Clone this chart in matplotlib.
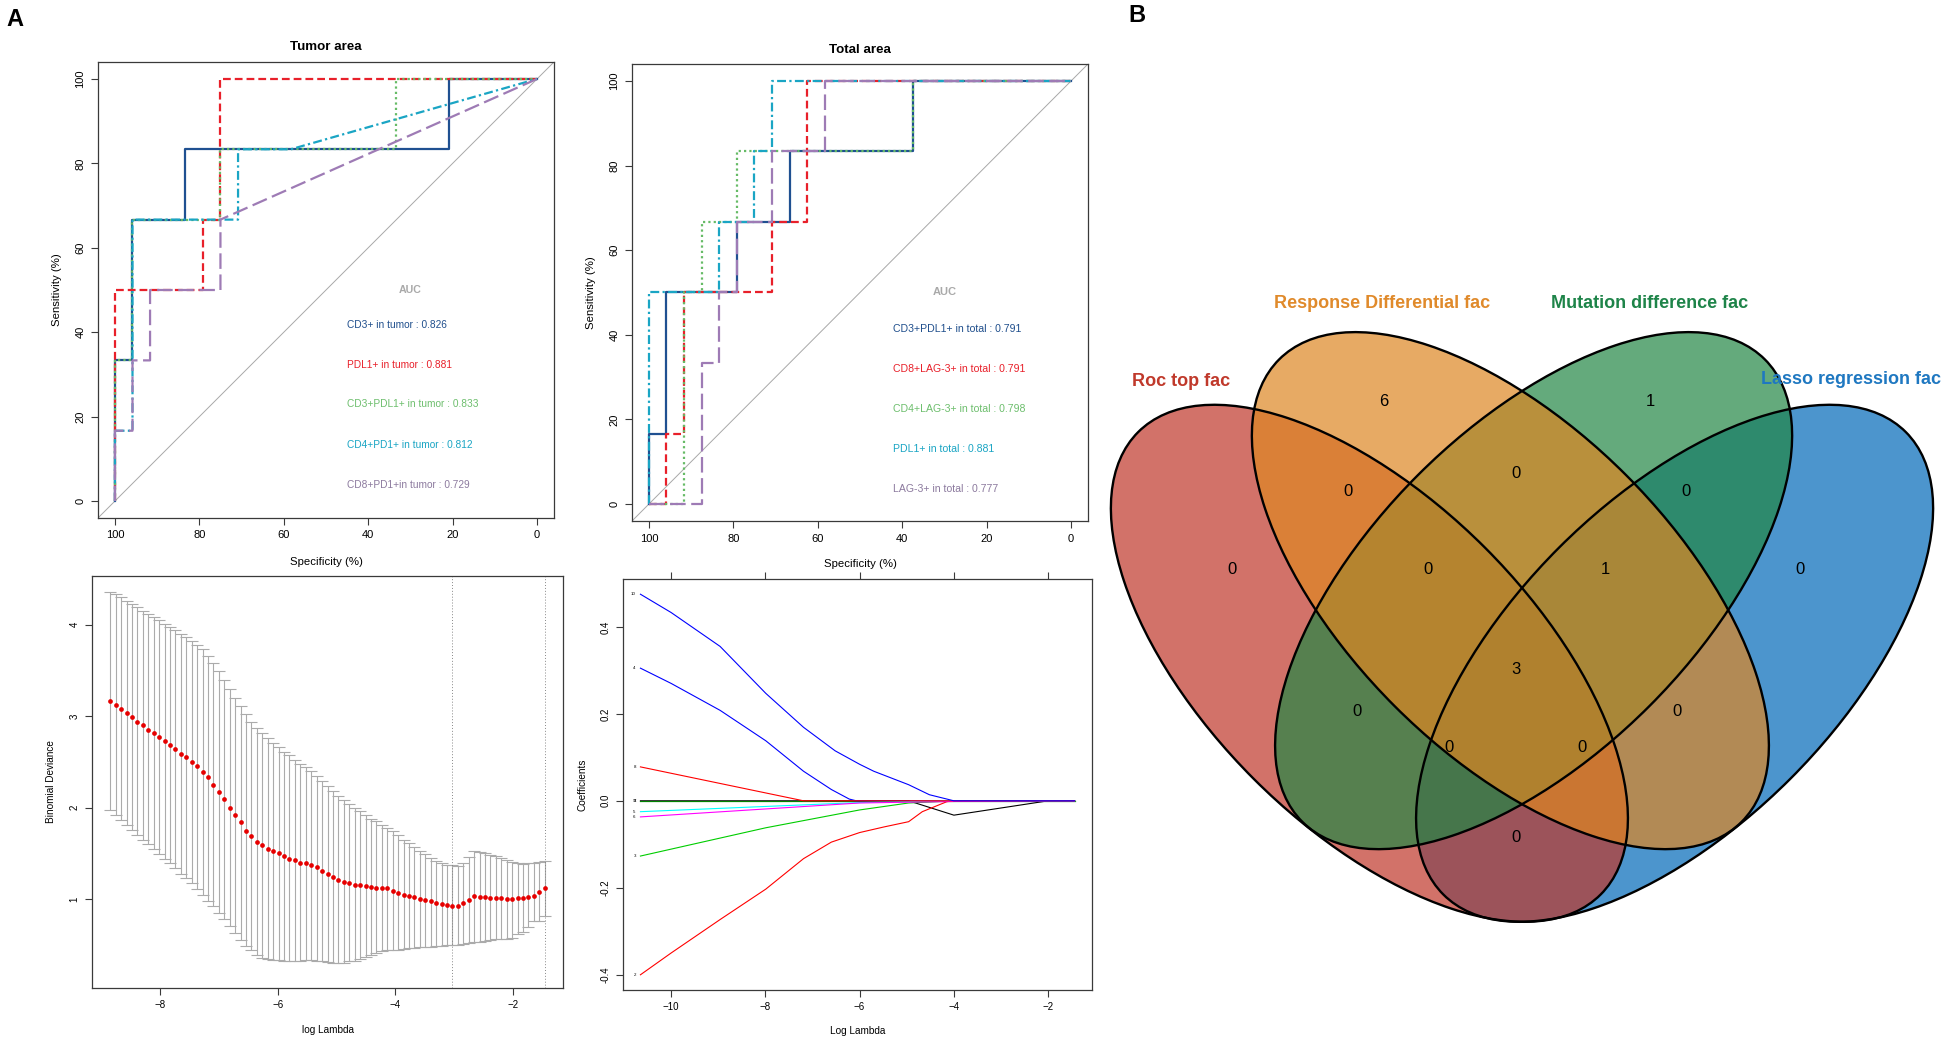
import numpy as np
import matplotlib
matplotlib.use('Agg')
import matplotlib.pyplot as plt
from matplotlib.patches import Ellipse

plt.rcParams['font.family'] = ['Liberation Sans', 'DejaVu Sans']

# ---------------- DATA ----------------
# Tumor area ROC (specificity %, sensitivity %)
tumor_names = ["CD3+ in tumor", "PDL1+ in tumor", "CD3+PDL1+ in tumor", "CD4+PD1+ in tumor", "CD8+PD1+in tumor"]
tumor_auc = [0.826, 0.881, 0.833, 0.812, 0.729]
tumor_spec = [
    [100, 100, 95.83, 95.83, 83.33, 83.33, 20.83, 20.83, 0],
    [100, 100, 79.17, 79.17, 75, 75, 0],
    [100, 100, 95.83, 95.83, 75, 75, 33.33, 33.33, 0],
    [100, 100, 95.83, 95.83, 70.83, 70.83, 58.33, 0],
    [100, 100, 95.83, 95.83, 91.67, 91.67, 75, 75, 0],
]
tumor_sens = [
    [0, 33.33, 33.33, 66.67, 66.67, 83.33, 83.33, 100, 100],
    [0, 50, 50, 66.67, 66.67, 100, 100],
    [0, 33.33, 33.33, 66.67, 66.67, 83.33, 83.33, 100, 100],
    [0, 16.67, 16.67, 66.67, 66.67, 83.33, 83.33, 100],
    [0, 16.67, 16.67, 33.33, 33.33, 50, 50, 66.67, 100],
]
# Total area ROC
total_names = ["CD3+PDL1+ in total", "CD8+LAG-3+ in total", "CD4+LAG-3+ in total", "PDL1+ in total", "LAG-3+ in total"]
total_auc = [0.791, 0.791, 0.798, 0.881, 0.777]
total_spec = [
    [100, 100, 95.83, 95.83, 79.17, 79.17, 66.67, 66.67, 37.5, 37.5, 0],
    [100, 95.83, 95.83, 91.67, 91.67, 70.83, 70.83, 62.5, 62.5, 0],
    [100, 91.67, 91.67, 87.5, 87.5, 79.17, 79.17, 37.5, 37.5, 0],
    [100, 100, 83.33, 83.33, 75, 75, 70.83, 70.83, 0],
    [100, 87.5, 87.5, 83.33, 83.33, 79.17, 79.17, 70.83, 70.83, 58.33, 58.33, 0],
]
total_sens = [
    [0, 16.67, 16.67, 50, 50, 66.67, 66.67, 83.33, 83.33, 100, 100],
    [0, 0, 16.67, 16.67, 50, 50, 66.67, 66.67, 100, 100],
    [0, 0, 50, 50, 66.67, 66.67, 83.33, 83.33, 100, 100],
    [0, 50, 50, 66.67, 66.67, 83.33, 83.33, 100, 100],
    [0, 0, 33.33, 33.33, 50, 50, 66.67, 66.67, 83.33, 83.33, 100, 100],
]
roc_colors = ['#1F5091', '#E8202A', '#66BB66', '#1AA5C4', '#9E7BB5']
roc_text_colors = ['#1F4E8C', '#E8202A', '#6DBE6D', '#1AA5C4', '#8C7A9E']
roc_styles = ['-', (0, (3.5, 1.8)), (0, (1, 1.4)), (0, (4, 1.5, 1, 1.5)), (0, (7, 2.5))]

# Lasso CV (binomial deviance)
cv_loglambda_range = (-8.85, -1.46)
cv_mean = [3.17, 3.125, 3.075, 3.03, 2.99, 2.94, 2.90, 2.85, 2.81, 2.77,
           2.725, 2.68, 2.64, 2.59, 2.55, 2.50, 2.45, 2.39, 2.33, 2.25,
           2.17, 2.09, 2.00, 1.92, 1.84, 1.75, 1.69, 1.63, 1.59, 1.55,
           1.53, 1.50, 1.47, 1.44, 1.425, 1.40, 1.39, 1.37, 1.35, 1.31,
           1.28, 1.24, 1.21, 1.19, 1.175, 1.16, 1.15, 1.14, 1.13, 1.125,
           1.125, 1.12, 1.09, 1.065, 1.05, 1.035, 1.02, 1.005, 0.99, 0.975,
           0.96, 0.95, 0.94, 0.93, 0.93, 0.957, 0.99, 1.03, 1.02, 1.02,
           1.015, 1.01, 1.01, 1.005, 1.005, 1.01, 1.015, 1.02, 1.04, 1.08, 1.125]
cv_upper = [4.36, 4.33, 4.30, 4.26, 4.22, 4.19, 4.15, 4.11, 4.08, 4.05,
            4.01, 3.975, 3.94, 3.90, 3.86, 3.825, 3.78, 3.73, 3.66, 3.58,
            3.49, 3.39, 3.30, 3.20, 3.11, 3.02, 2.94, 2.87, 2.81, 2.76,
            2.71, 2.66, 2.61, 2.57, 2.52, 2.48, 2.44, 2.40, 2.35, 2.29,
            2.24, 2.18, 2.125, 2.08, 2.04, 2.00, 1.96, 1.92, 1.88, 1.85,
            1.81, 1.78, 1.75, 1.70, 1.65, 1.61, 1.57, 1.53, 1.49, 1.45,
            1.42, 1.40, 1.375, 1.37, 1.36, 1.39, 1.46, 1.525, 1.52, 1.50,
            1.48, 1.47, 1.45, 1.43, 1.41, 1.39, 1.38, 1.39, 1.40, 1.41, 1.42]
cv_lower = [1.97, 1.92, 1.86, 1.81, 1.76, 1.70, 1.65, 1.60, 1.55, 1.49,
            1.44, 1.39, 1.34, 1.28, 1.23, 1.175, 1.11, 1.05, 0.985, 0.925,
            0.85, 0.78, 0.71, 0.63, 0.55, 0.49, 0.44, 0.39, 0.36, 0.35,
            0.34, 0.335, 0.33, 0.33, 0.33, 0.33, 0.335, 0.34, 0.33, 0.32,
            0.31, 0.30, 0.30, 0.305, 0.32, 0.33, 0.35, 0.37, 0.39, 0.41,
            0.43, 0.44, 0.445, 0.45, 0.46, 0.47, 0.47, 0.475, 0.48, 0.48,
            0.485, 0.49, 0.495, 0.50, 0.50, 0.51, 0.52, 0.53, 0.535, 0.54,
            0.55, 0.56, 0.565, 0.57, 0.58, 0.62, 0.645, 0.70, 0.76, 0.76, 0.82]

# Lasso coefficient paths (log lambda, coefficient)
coef_labels = ["1", "9", "7", "2", "3", "4", "5", "6", "8", "10"]
coef_colors = ['black', '#00CD00', 'black', 'red', '#00CD00', 'blue', 'cyan', 'magenta', 'red', 'blue']
coef_x = [
    [-10.65, -1.44],
    [-10.65, -1.44],
    [-10.65, -4.96, -4.0, -2.0, -1.44],
    [-10.65, -10, -8.96, -7.99, -7.19, -6.6, -6.0, -5.48, -4.96, -4.67, -4.15, -4.0, -1.44],
    [-10.65, -7.99, -6.0, -4.96, -4.0, -1.44],
    [-10.65, -10, -8.96, -7.99, -7.19, -6.6, -6.22, -6.07, -1.44],
    [-10.65, -8.0, -6.0, -4.0, -1.44],
    [-10.65, -6.0, -4.0, -2.0, -1.44],
    [-10.65, -7.19, -1.44],
    [-10.65, -10, -8.96, -7.99, -7.19, -6.52, -6.0, -5.70, -4.96, -4.52, -4.0, -1.44],
]
coef_y = [
    [0, 0],
    [0, 0],
    [0, 0, -0.033, 0, 0],
    [-0.40, -0.35, -0.273, -0.203, -0.133, -0.095, -0.073, -0.06, -0.048, -0.025, -0.002, 0, 0],
    [-0.127, -0.062, -0.021, -0.005, 0, 0],
    [0.305, 0.27, 0.208, 0.138, 0.068, 0.026, 0.004, 0, 0],
    [-0.025, -0.013, -0.004, 0, 0],
    [-0.037, -0.005, -0.0015, 0, 0],
    [0.078, 0, 0],
    [0.475, 0.433, 0.355, 0.247, 0.169, 0.115, 0.084, 0.068, 0.037, 0.014, 0.0, 0.0],
]

# Venn diagram
venn_names = ["Roc top fac", "Response Differential fac", "Mutation difference fac", "Lasso regression fac"]
venn_fill = ['#BF3729', '#DE8622', '#228645', '#0069B8']
venn_text_colors = ['#C0392B', '#E08A2B', '#1E8449', '#1F78C1']
# region keys: membership in (Roc, Response, Mutation, Lasso)
venn_regions = ['1000', '0100', '0010', '0001', '1100', '0110', '0011', '1110', '0111',
                '1111', '1010', '0101', '1011', '1101', '1001']
venn_counts = [0, 6, 1, 0, 0, 0, 0, 0, 1, 3, 0, 0, 0, 0, 0]

# ---------------- FIGURE ----------------
W, H = 1945, 1042
fig = plt.figure(figsize=(W / 100, H / 100), dpi=100)


def ax_px(l, t, r, b):
    return fig.add_axes([l / W, 1 - b / H, (r - l) / W, (b - t) / H])


def ftext(x, y, s, **kw):
    return fig.text(x / W, 1 - y / H, s, **kw)


def rstyle(ax, fs):
    for s in ax.spines.values():
        s.set_color('#3a3a3a')
        s.set_linewidth(0.9)
    ax.tick_params(direction='out', length=5, width=0.8, color='#3a3a3a',
                   labelsize=fs, pad=4)
    ax.tick_params(axis='y', labelrotation=90)
    for lab in ax.get_yticklabels():
        lab.set_verticalalignment('center')


def roc_panel(box, title, title_y, names, aucs, specs, senss, text_x, text_ys, text_fs,
              xlabel_y, ylabel_x):
    ax = ax_px(*box)
    ax.set_xlim(104, -4)
    ax.set_ylim(-4, 104)
    ax.set_xticks([100, 80, 60, 40, 20, 0])
    ax.set_yticks([0, 20, 40, 60, 80, 100])
    ax.plot([104, -4], [-4, 104], color='#A8A8A8', lw=0.7)
    for i in range(len(names)):
        ax.plot(specs[i], senss[i], color=roc_colors[i], ls=roc_styles[i], lw=1.6)
    ax.text(30, 50, 'AUC', color='#A9A9A9', fontsize=text_fs + 0.4, fontweight='bold',
            ha='center', va='center')
    for i in range(len(names)):
        ax.text(text_x, text_ys[i], f"{names[i]} : {aucs[i]:.3f}", color=roc_text_colors[i],
                fontsize=text_fs, ha='left', va='center')
    rstyle(ax, 8)
    l, t, r, b = box
    ftext((l + r) / 2, title_y, title, fontsize=9.6, fontweight='bold', ha='center', va='center')
    ftext((l + r) / 2, xlabel_y, 'Specificity (%)', fontsize=8.2, ha='center', va='center')
    ftext(ylabel_x, (t + b) / 2, 'Sensitivity (%)', fontsize=8.2, ha='center', va='center', rotation=90)
    return ax


roc_panel((98, 62, 554, 518), 'Tumor area', 47, tumor_names, tumor_auc, tumor_spec, tumor_sens,
          45, [41.8, 32.3, 22.9, 13.4, 3.9], 7.3, 562, 57)
roc_panel((632, 64, 1088, 521), 'Total area', 50, total_names, total_auc, total_spec, total_sens,
          42.2, [41.4, 32.0, 22.5, 13.0, 3.5], 7.6, 564, 591)

# ---- CV plot ----
ax = ax_px(92, 576, 563, 988)
n = len(cv_mean)
xs = np.linspace(cv_loglambda_range[0], cv_loglambda_range[1], n)
mean = np.array(cv_mean)
up = np.array(cv_upper)
lo = np.array(cv_lower)
ax.errorbar(xs, mean, yerr=[mean - lo, up - mean], fmt='none', ecolor='#ABABAB',
            elinewidth=0.8, capsize=4.5, capthick=0.8)
ax.plot(xs, mean, 'o', color='#E60000', ms=3.4, mec='none', zorder=3)
imin = int(np.argmin(mean))
thr = mean[imin] + (up[imin] - mean[imin])
i1se = max(i for i in range(n) if mean[i] <= thr)
ax.axvline(xs[imin], ls=(0, (1, 2)), color='#888888', lw=0.7)
ax.axvline(xs[i1se], ls=(0, (1, 2)), color='#888888', lw=0.7)
ax.set_xlim(-9.16, -1.15)
ax.set_ylim(0.03, 4.53)
ax.set_xticks([-8, -6, -4, -2])
ax.set_yticks([1, 2, 3, 4])
rstyle(ax, 7)
ftext((92 + 563) / 2, 1030, 'log Lambda', fontsize=7.2, ha='center', va='center')
ftext(51, (576 + 988) / 2, 'Binomial Deviance', fontsize=7.2, ha='center', va='center', rotation=90)

# ---- Coefficient paths ----
ax = ax_px(623, 579, 1092, 990)
for i in range(len(coef_x)):
    ax.plot(coef_x[i], coef_y[i], color=coef_colors[i], lw=0.8)
    ax.text(coef_x[i][0] - 0.1, coef_y[i][0], coef_labels[i], fontsize=3.2, ha='right', va='center')
ax.set_xlim(-11.02, -1.07)
ax.set_ylim(-0.435, 0.51)
ax.set_xticks([-10, -8, -6, -4, -2])
ax.set_yticks([-0.4, -0.2, 0.0, 0.2, 0.4])
ax.set_yticklabels(['-0.4', '-0.2', '0.0', '0.2', '0.4'])
rstyle(ax, 7)
ax.tick_params(axis='x', top=True, labeltop=False)
ftext((623 + 1092) / 2, 1031, 'Log Lambda', fontsize=7.2, ha='center', va='center')
ftext(583, (579 + 990) / 2, 'Coefficients', fontsize=7.2, ha='center', va='center', rotation=90)

# ---- Venn (pixel coordinates, y down) ----
av = fig.add_axes([0, 0, 1, 1])
av.set_xlim(0, W)
av.set_ylim(H, 0)
av.axis('off')
S = 218.0                 # pixels per layout unit
X0, YMID = 1522.0, 627.0  # pixel position of layout point (0, -0.3335)


def lay(x, y):
    return X0 + x * S, YMID - (y + 0.3335) * S


# (x, y, x-radius, y-radius, rotation deg counter-clockwise) in layout units
ell = [(-0.7, -0.5, 0.75, 1.5, 45), (-0.0533, -0.1667, 0.75, 1.5, 45),
       (0.0533, -0.1667, 0.75, 1.5, -45), (0.7, -0.5, 0.75, 1.5, -45)]
draw_order = [3, 0, 2, 1]
for k, idx in enumerate(draw_order):
    x, y, rx, ry, rot = ell[idx]
    av.add_patch(Ellipse(lay(x, y), 2 * rx * S, 2 * ry * S, angle=-rot, facecolor=venn_fill[idx],
                         alpha=0.7, edgecolor='none', zorder=1 + k))
for x, y, rx, ry, rot in ell:
    av.add_patch(Ellipse(lay(x, y), 2 * rx * S, 2 * ry * S, angle=-rot, facecolor='none',
                         edgecolor='black', lw=1.7, zorder=10))
region_pos = {'1000': (1232, 570), '0100': (1384, 402), '0010': (1650, 402), '0001': (1800, 570),
              '1100': (1348, 492), '0110': (1516, 473), '0011': (1686, 492), '1110': (1428, 570),
              '0111': (1605, 570), '1111': (1516, 669), '1010': (1357, 712), '0101': (1677, 712),
              '1011': (1449, 748), '1101': (1582, 748), '1001': (1516, 838)}
for key, cnt in zip(venn_regions, venn_counts):
    x, y = region_pos[key]
    av.text(x, y, str(cnt), fontsize=12, ha='center', va='center', zorder=11)
name_pos = [(1181, 381), (1382, 303), (1650, 303), (1851, 379)]
for i, nm in enumerate(venn_names):
    av.text(name_pos[i][0], name_pos[i][1], nm, color=venn_text_colors[i], fontsize=13,
            fontweight='bold', ha='center', va='center', zorder=11)

ftext(15, 19, 'A', fontsize=17, fontweight='bold', ha='center', va='center')
ftext(1137, 15, 'B', fontsize=17, fontweight='bold', ha='center', va='center')

fig.savefig('out.png', dpi=100)
